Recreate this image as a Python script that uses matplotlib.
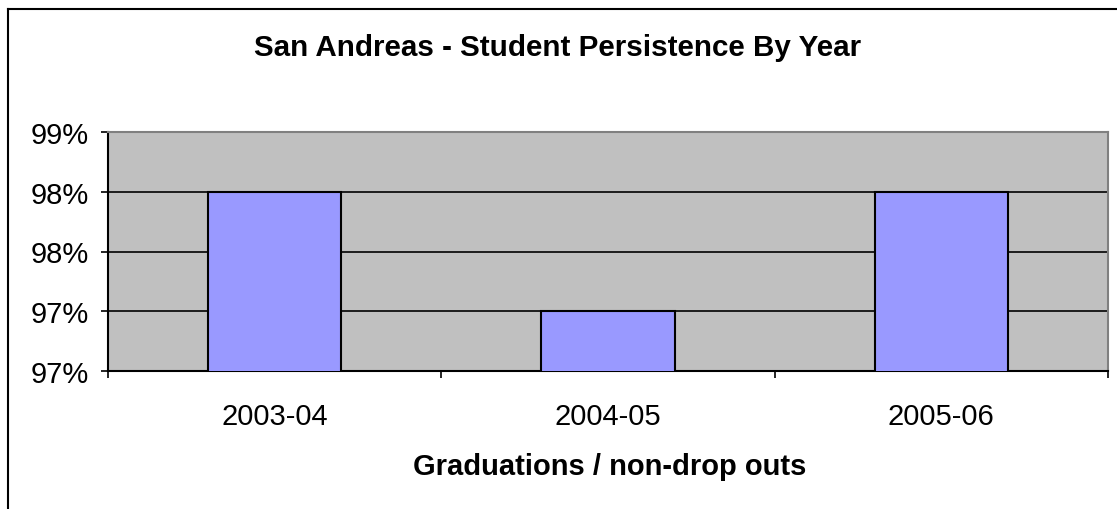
import matplotlib.pyplot as plt
from matplotlib.lines import Line2D

plt.rc('font', family='Liberation Sans')

years = ['2003-04', '2004-05', '2005-06']
persistence = [0.980, 0.970, 0.980]
ytick_vals = [0.965, 0.970, 0.975, 0.980, 0.985]
ytick_labels = ['97%', '97%', '98%', '98%', '99%']

W, H = 1117, 510
fig = plt.figure(figsize=(W / 100, H / 100), dpi=100)
ax = fig.add_axes([108 / W, (H - 372) / H, 1000 / W, (372 - 133) / H])
ax.set_facecolor('#C0C0C0')

x = range(len(years))
ax.bar(x, persistence, width=0.4, color='#9999FF', edgecolor='black', linewidth=1.5, zorder=3)

ax.set_xlim(-0.5, len(years) - 0.5)
ax.set_ylim(ytick_vals[0], ytick_vals[-1])
ax.set_yticks(ytick_vals)
ax.set_yticklabels(ytick_labels, fontsize=21)
ax.set_xticks(list(x))
ax.set_xticklabels(years, fontsize=21)
ax.tick_params(axis='x', which='major', length=0, pad=22)
ax.set_xticks([i - 0.5 for i in range(len(years) + 1)], minor=True)
ax.tick_params(axis='x', which='minor', length=5, width=1.2, direction='out')
ax.tick_params(axis='y', length=5, width=1.2, direction='out', pad=9)

ax.grid(axis='y', color='black', linewidth=1.2, zorder=1)
ax.set_axisbelow(True)

for side in ['left', 'bottom']:
    ax.spines[side].set_color('black')
    ax.spines[side].set_linewidth(1.5)
for side in ['top', 'right']:
    ax.spines[side].set_color('#808080')
    ax.spines[side].set_linewidth(1.5)

fig.text(558 / W, 1 - 48 / H, 'San Andreas - Student Persistence By Year',
         ha='center', va='center', fontsize=21.3, fontweight='bold')
fig.text(610 / W, 1 - 467 / H, 'Graduations / non-drop outs',
         ha='center', va='center', fontsize=21, fontweight='bold')

# outer chart border (only left and top are visible in the crop)
fig.add_artist(Line2D([8 / W, 8 / W], [0, 1 - 10 / H], color='black', linewidth=1.5, transform=fig.transFigure))
fig.add_artist(Line2D([8 / W, 1], [1 - 10 / H, 1 - 10 / H], color='black', linewidth=1.5, transform=fig.transFigure))

fig.savefig('out.png', dpi=100)
